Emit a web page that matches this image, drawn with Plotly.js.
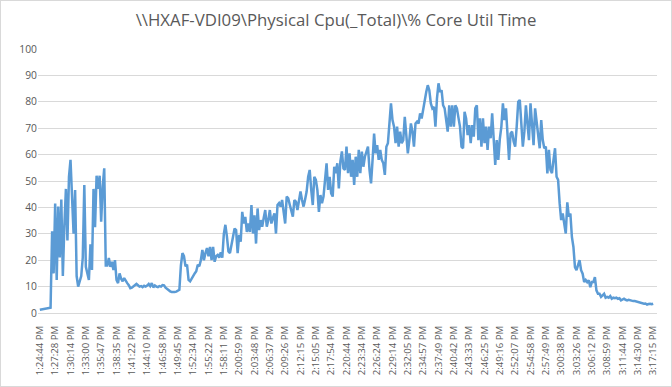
<!DOCTYPE html>
<html><head><meta charset="utf-8">
<script src="https://cdn.plot.ly/plotly-3.0.1.min.js"></script>
<style>html,body{margin:0;padding:0;background:#fff}#chart{width:670px;height:385px;border:1px solid #d9d9d9}</style>
</head><body><div id="chart"></div>
<script>
const chartTitle = '\\\\HXAF-VDI09\\Physical Cpu(_Total)\\% Core Util Time';

const timeLabels = ['1:24:44 PM','1:27:28 PM','1:30:14 PM','1:33:00 PM','1:35:47 PM','1:38:35 PM','1:41:22 PM','1:44:10 PM','1:46:58 PM','1:49:45 PM','1:52:34 PM','1:55:22 PM','1:58:11 PM','2:00:59 PM','2:03:48 PM','2:06:37 PM','2:09:26 PM','2:12:15 PM','2:15:05 PM','2:17:54 PM','2:20:44 PM','2:23:34 PM','2:26:24 PM','2:29:14 PM','2:32:05 PM','2:34:57 PM','2:37:49 PM','2:40:42 PM','2:43:33 PM','2:46:25 PM','2:49:16 PM','2:52:07 PM','2:54:58 PM','2:57:49 PM','3:00:38 PM','3:03:26 PM','3:06:12 PM','3:08:59 PM','3:11:44 PM','3:14:30 PM','3:17:15 PM'];

const samplesPerLabel = 10;

const coreUtil = [
1.2,1.3,1.4,1.5,1.6,1.7,1.8,2.0,31,15,
41.5,12.5,40.3,21,43,14,33,47,27.5,51.6,
58,44,30,46.6,14,10,12.5,14,21,48.5,
17.5,15,12.5,26,16.3,47,32.5,52,47,52,
34.6,48,54.8,18,18,20.8,17.5,19.4,16.3,20,
12.5,11.3,15,13,12,13.2,12,11.3,10.5,9.4,
9.6,10,10.3,11,10.5,10,10.2,9.8,10.3,10,
10.4,11,10.2,11.3,9.7,10.4,10,9.8,10.2,10,
10.6,10.5,9.6,9,8.6,8.2,8,7.9,8,8.1,
8.4,8.8,18,22.7,21.5,17.7,18.3,12.5,12,13,
14.5,15,15.8,18.3,17.7,20,23.9,20,22.7,24.6,
21.5,25,20,25,19.4,21.5,22,21,23,21,
30,33.4,29,23.3,22.7,26,29,32,31.4,22.7,
29.6,27,38.3,33.9,36.4,30.7,33.9,30.7,40.9,30.1,
37,26.3,39.6,31.4,35.2,32.7,36,39,32.7,35.2,
39,33.9,36,37.7,30.1,40.9,41.6,40.3,42.8,37.7,
33.9,44.1,43.4,41,39,36.5,42.8,42.2,39,43.4,
46,42.8,40.3,43,46,51.6,54.2,46.6,40.9,51.6,
50.4,46.6,38.3,44.7,41.6,44.1,49.8,56.7,46.6,51.6,
45.3,44.1,55.4,52.9,56.7,47.2,57.4,61.2,54.8,54.2,
63,53,60.5,51.6,58,48.5,59.2,51.6,61.8,53,
61.1,55.4,59.2,61,63,54.2,49.1,58,68,60.5,
63.6,58,61.8,58,56.7,52.3,63,64.3,73.1,79.4,
73.1,70.6,64.3,70.6,63,68.7,64.3,65.5,74.3,68,
60.5,65.5,71.8,68.7,63,71.8,72.5,71.8,75.6,73.7,
77.5,80,83.7,86.3,84.4,79.4,77.5,78.1,70.6,81.3,
87,83.7,84.4,78.7,77.5,73.1,68.7,78.7,70.6,78.7,
70.6,78.7,77.5,74,70.6,63,62.4,76.2,73.7,67.4,
71.2,64.3,71.2,66.8,77.5,78.7,65.5,73.7,63,73.7,
64.3,70.6,61.8,70.6,66.2,75.6,63,56.1,65.5,58,
66,70.6,79.4,73.1,77.5,66.8,58,68,68.7,65,
63,70.6,80,80.7,73.1,63,68.7,78.7,71.8,65.5,
79.4,70.6,63.6,77.5,72,67.4,62.4,73.1,65.5,62.4,
63,52.9,61.8,54.2,53,58,62.4,51.6,50.4,41.6,
35.2,37.7,34,30.1,41.9,36.5,37.7,28.8,25,17.4,
16.2,18.7,20,16.2,14.9,11.7,12.5,11.7,12.4,9.8,
11.7,11.7,13.6,8.6,7.3,7.3,6.1,6.7,7.3,5.8,
6.1,5.8,6.4,5.4,5.8,5.6,5.8,5.4,5.6,4.8,
5.2,5.4,5,4.8,5,4.8,4.6,4.5,4.5,4.3,
4.2,4,3.8,3.7,3.5,3.6,3.2,3.4,3.5,3.3,
3.5
];

const sampleIndex = coreUtil.map((v, i) => i);
const tickPositions = timeLabels.map((t, k) => k * samplesPerLabel);

const xTickFont = {family: 'Open Sans, sans-serif', size: 9.6, color: '#595959'};
const yTickFont = {family: 'Open Sans, sans-serif', size: 10.3, color: '#595959'};

Plotly.newPlot('chart', [{
  type: 'scatter', mode: 'lines',
  x: sampleIndex, y: coreUtil,
  line: {color: '#5B9BD5', width: 2.5},
  hoverinfo: 'skip'
}], {
  width: 670, height: 385,
  margin: {l: 37, r: 14, t: 48, b: 73, pad: 0},
  paper_bgcolor: '#ffffff', plot_bgcolor: '#ffffff',
  showlegend: false,
  title: {text: chartTitle, x: 0.5, xanchor: 'center', y: 0.95, yanchor: 'middle',
          font: {family: 'Open Sans, sans-serif', size: 16.8, color: '#595959'}},
  xaxis: {range: [-1.2, 402.5], tickmode: 'array', tickvals: tickPositions, ticktext: timeLabels,
          tickangle: -90, showgrid: false, zeroline: false, showline: true, linecolor: '#d9d9d9',
          linewidth: 1, ticks: '', ticklen: 0, tickfont: xTickFont, ticklabelstandoff: 8},
  yaxis: {range: [0, 100], tickmode: 'linear', tick0: 0, dtick: 10, showgrid: true,
          gridcolor: '#d9d9d9', gridwidth: 1, zeroline: false, showline: false, ticks: '',
          ticklen: 0, tickfont: yTickFont}
}, {staticPlot: true, displayModeBar: false});
</script>
</body></html>
